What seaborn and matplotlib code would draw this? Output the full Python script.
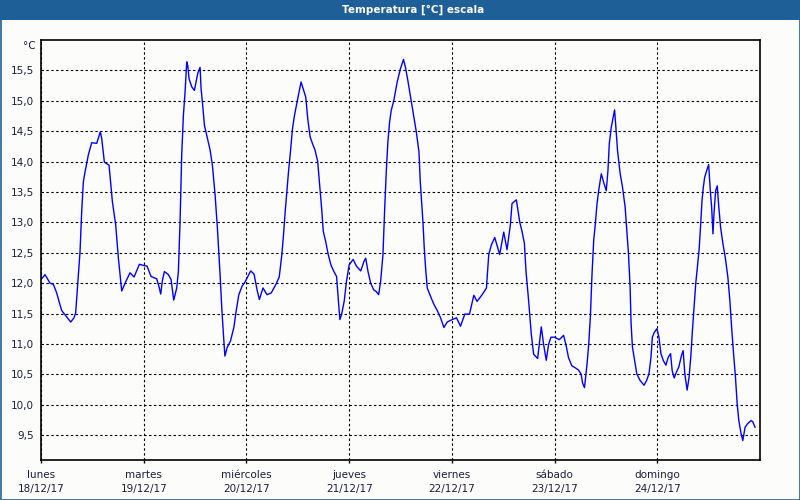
import numpy as np
import pandas as pd
import seaborn as sns
import matplotlib.pyplot as plt
from matplotlib.patches import Rectangle

## Data (hours since lunes 18/12/17 00:00, temperature in degC)
hours = [0.0, 0.94, 2.10, 2.88, 3.66, 4.21, 4.83, 5.61, 6.94, 7.71, 8.10, 8.57, 9.12, 9.51, 9.90,
         10.29, 11.06, 11.84, 13.01, 13.87, 14.18, 14.81, 15.90, 16.68, 17.45, 18.08, 18.86, 19.64,
         20.80, 21.74, 22.99, 24.0, 24.78, 25.71, 27.04, 27.58, 27.97, 28.36, 28.83, 29.77, 30.39,
         31.01, 31.71, 32.10, 32.49, 32.88, 33.27, 33.66, 34.05, 34.29, 34.60, 35.22, 35.84, 36.62,
         37.17, 37.40, 37.71, 38.18, 38.73, 39.51, 40.05, 40.68, 41.22, 41.84, 42.23, 42.62, 42.97,
         43.5, 44.28, 45.06, 45.6, 46.22, 46.99, 47.77, 48.54, 49.0, 49.78, 50.48, 51.02, 51.87,
         52.8, 53.81, 54.89, 55.66, 56.28, 56.67, 57.06, 57.45, 57.83, 58.22, 58.76, 59.23, 60.0,
         60.77, 61.24, 61.86, 62.32, 62.87, 63.41, 64.03, 64.65, 65.19, 65.57, 65.96, 66.5, 67.12,
         67.74, 68.44, 69.06, 69.45, 69.83, 70.22, 70.84, 71.38, 72.0, 72.93, 73.7, 74.71, 75.48,
         75.87, 76.41, 77.03, 77.73, 78.35, 78.89, 79.36, 79.9, 80.28, 80.67, 81.06, 81.45, 81.83,
         82.45, 83.23, 84.0, 84.7, 85.16, 85.7, 86.4, 87.15, 87.69, 88.31, 88.62, 88.93, 89.24,
         89.55, 89.86, 90.25, 91.03, 91.81, 92.58, 93.36, 94.14, 94.91, 96.08, 97.09, 98.02, 99.03,
         100.12, 101.13, 101.9, 103.07, 104.08, 104.62, 105.24, 106.02, 107.18, 108.12, 108.89,
         109.67, 110.06, 111.07, 111.85, 112.39, 112.94, 113.33, 113.95, 114.56, 115.11, 116.04,
         116.43, 116.9, 117.44, 118.06, 118.6, 119.15, 120.0, 121.09, 122.1, 122.65, 123.27, 124.04,
         124.98, 125.6, 126.22, 126.53, 126.99, 127.59, 127.98, 128.36, 128.75, 129.14, 129.52,
         129.91, 130.3, 130.92, 131.46, 132.08, 132.47, 132.78, 133.24, 133.71, 134.02, 134.33,
         134.71, 135.33, 135.87, 136.49, 136.88, 137.27, 137.65, 137.88, 138.19, 138.58, 139.2,
         139.97, 140.9, 141.52, 142.06, 142.53, 142.84, 143.3, 143.92, 144.39, 144.85, 145.39,
         146.01, 146.55, 147.1, 147.48, 147.95, 148.49, 149.03, 149.65, 150.04, 150.43, 150.97,
         151.43, 151.82, 152.21, 152.59, 152.98, 153.37, 153.76, 154.14, 154.45, 154.76, 155.07,
         155.54, 156.0, 156.39, 156.7, 157.01, 157.24, 157.63, 158.01, 158.32, 158.79, 159.33,
         159.87, 160.49, 160.96, 161.42, 161.89, 162.27, 162.66, 163.05, 163.59, 163.98, 164.52,
         165.14, 165.91, 166.3, 166.84]
temps = [12.06, 12.14, 12.0, 11.98, 11.84, 11.70, 11.55, 11.48, 11.36, 11.43, 11.51, 11.98, 12.52,
         13.18, 13.67, 13.83, 14.11, 14.31, 14.30, 14.49, 14.38, 13.99, 13.94, 13.34, 12.96, 12.41,
         11.87, 12.0, 12.17, 12.10, 12.31, 12.29, 12.28, 12.11, 12.07, 11.94, 11.82, 12.04, 12.19,
         12.14, 12.06, 11.72, 11.92, 12.19, 13.01, 14.11, 14.76, 15.14, 15.64, 15.58, 15.36, 15.23,
         15.17, 15.45, 15.55, 15.20, 14.98, 14.60, 14.43, 14.19, 13.94, 13.45, 12.90, 12.14, 11.60,
         11.16, 10.80, 10.94, 11.05, 11.27, 11.54, 11.81, 11.95, 12.03, 12.14, 12.20, 12.15, 11.89,
         11.73, 11.92, 11.81, 11.84, 11.98, 12.10, 12.47, 12.80, 13.18, 13.51, 13.83, 14.11, 14.54,
         14.76, 15.04, 15.31, 15.20, 15.06, 14.71, 14.41, 14.30, 14.19, 14.0, 13.56, 13.23, 12.85,
         12.69, 12.47, 12.30, 12.19, 12.11, 11.76, 11.40, 11.48, 11.70, 12.03, 12.30, 12.39, 12.28,
         12.20, 12.36, 12.41, 12.19, 12.0, 11.89, 11.86, 11.81, 12.03, 12.47, 13.18, 13.83, 14.33,
         14.65, 14.84, 15.01, 15.31, 15.53, 15.68, 15.55, 15.34, 15.04, 14.71, 14.49, 14.16, 13.67,
         13.34, 13.01, 12.58, 12.25, 11.92, 11.78, 11.65, 11.55, 11.43, 11.27, 11.36, 11.40, 11.43,
         11.29, 11.49, 11.49, 11.80, 11.70, 11.81, 11.92, 12.47, 12.63, 12.75, 12.47, 12.84, 12.55,
         12.96, 13.31, 13.37, 13.01, 12.85, 12.66, 12.19, 11.70, 11.16, 10.83, 10.76, 10.99, 11.28,
         10.99, 10.73, 10.99, 11.11, 11.11, 11.07, 11.14, 10.99, 10.77, 10.64, 10.60, 10.57, 10.50,
         10.36, 10.28, 10.67, 11.0, 11.44, 12.15, 12.70, 12.97, 13.30, 13.52, 13.80, 13.66, 13.52,
         13.85, 14.29, 14.56, 14.73, 14.85, 14.56, 14.18, 13.80, 13.58, 13.25, 12.86, 12.48, 11.93,
         11.33, 10.95, 10.78, 10.51, 10.40, 10.32, 10.40, 10.51, 10.78, 11.11, 11.19, 11.25, 11.11,
         10.84, 10.73, 10.65, 10.78, 10.84, 10.56, 10.44, 10.54, 10.62, 10.81, 10.89, 10.51, 10.24,
         10.45, 10.78, 11.22, 11.60, 11.99, 12.26, 12.54, 12.97, 13.36, 13.58, 13.74, 13.85, 13.95,
         13.52, 13.25, 12.81, 13.14, 13.52, 13.60, 13.30, 12.92, 12.65, 12.43, 12.10, 11.71, 11.22,
         10.78, 10.45, 10.02, 9.74, 9.52, 9.41, 9.63, 9.69, 9.74, 9.72, 9.63]

day_names = ["lunes", "martes", "miércoles", "jueves", "viernes", "sábado", "domingo"]
day_dates = ["18/12/17", "19/12/17", "20/12/17", "21/12/17", "22/12/17", "23/12/17", "24/12/17"]
y_ticks = [9.5, 10.0, 10.5, 11.0, 11.5, 12.0, 12.5, 13.0, 13.5, 14.0, 14.5, 15.0, 15.5]

df = pd.DataFrame({"day": np.array(hours) / 24.0, "temp": temps})

bg = "#fcfdfa"
txt = "#1c1c3c"
bar = "#1f5f98"

plt.rcParams['font.family'] = ['DejaVu Sans']
fig = plt.figure(figsize=(8, 5), dpi=100, facecolor=bg)
ax = fig.add_axes([41 / 800, 40 / 500, 719 / 800, 420 / 500])
ax.set_facecolor(bg)

sns.lineplot(data=df, x="day", y="temp", ax=ax, color="#0000ff", lw=1.0, sort=False)

ax.set_xlim(0, 7)
ax.set_ylim(9.09, 16.0)
ax.set_xticks(range(7))
ax.set_xticklabels([f"{n}\n{d}" for n, d in zip(day_names, day_dates)],
                   fontsize=7.5, color=txt, linespacing=1.5)
ax.set_yticks(y_ticks)
ax.set_yticklabels([f"{v:.1f}".replace(".", ",") for v in y_ticks], fontsize=7.5, color=txt)
ax.tick_params(axis="y", length=0, pad=5)
ax.tick_params(axis="x", length=2.5, width=1, pad=4.5, color="black")
ax.grid(True, color="black", lw=0.8, linestyle=(0, (2.2, 2.2)))
for s in ax.spines.values():
    s.set_color("black")
    s.set_linewidth(1.2)
ax.set_xlabel("")
ax.set_ylabel("")

fig.text(36 / 800, 1 - 46 / 500, "°C", ha="right", va="center", fontsize=7.5, color=txt)

# title bar and window border
fig.patches.append(Rectangle((0, 1 - 20 / 500), 1, 20 / 500, transform=fig.transFigure,
                             facecolor=bar, edgecolor="none", zorder=0))
fig.patches.append(Rectangle((0.5 / 800, 0.5 / 500), 799 / 800, 499 / 500, transform=fig.transFigure,
                             facecolor="none", edgecolor=bar, lw=1.2, zorder=5))
fig.text(413 / 800, 1 - 10 / 500, "Temperatura [°C] escala", ha="center", va="center",
         fontsize=7.5, fontweight="bold", color="white")

fig.savefig("out.png", dpi=100, facecolor=bg)
